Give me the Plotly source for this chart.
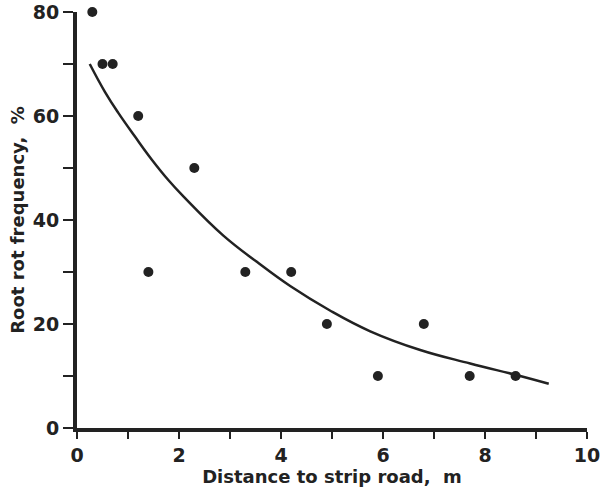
import plotly.graph_objects as go

# Observed data points (distance m, root rot frequency %)
dist = [0.3, 0.5, 0.7, 1.2, 1.4, 2.3, 3.3, 4.2, 4.9, 5.9, 6.8, 7.7, 8.6]
freq = [80, 70, 70, 60, 30, 50, 30, 30, 20, 10, 20, 10, 10]

# Fitted curve
curve_x = [0.25, 0.55, 0.81, 1.14, 1.46, 1.79, 2.10, 2.87, 3.52, 4.18, 4.96, 5.75, 6.73, 7.71, 8.69, 9.25]
curve_y = [70.0, 64.6, 60.6, 56.0, 51.7, 47.7, 44.4, 37.0, 32.0, 27.3, 22.6, 18.6, 15.0, 12.4, 10.0, 8.5]

x_ticks = list(range(0, 11))
x_labels = [str(v) if v % 2 == 0 else "" for v in x_ticks]
y_ticks = list(range(0, 81, 10))
y_labels = [str(v) if v % 20 == 0 else "" for v in y_ticks]

ink = "#222222"
font = dict(family="DejaVu Sans", size=18, color=ink, weight="bold")
tick_font = dict(family="DejaVu Sans", size=19, color=ink, weight="bold")

fig = go.Figure()
fig.add_trace(go.Scatter(x=curve_x, y=curve_y, mode="lines",
                         line=dict(color=ink, width=2.5, shape="spline", smoothing=1.2),
                         cliponaxis=False, showlegend=False))
fig.add_trace(go.Scatter(x=dist, y=freq, mode="markers",
                         marker=dict(color=ink, size=10),
                         cliponaxis=False, showlegend=False))

fig.update_layout(
    width=601, height=495,
    margin=dict(l=77, r=14, t=12, b=67, autoexpand=False),
    paper_bgcolor="white", plot_bgcolor="white",
    font=font,
    xaxis=dict(range=[0, 10], tickvals=x_ticks, ticktext=x_labels,
               automargin=False,
               showgrid=False, zeroline=False, showline=True,
               linecolor=ink, linewidth=4, ticks="outside", ticklen=7,
               tickwidth=2, tickcolor=ink, tickfont=tick_font,
               title=dict(text="Distance to strip road,  m", font=font, standoff=6)),
    yaxis=dict(range=[0, 80], tickvals=y_ticks, ticktext=y_labels,
               automargin=False,
               showgrid=False, zeroline=False, showline=True,
               linecolor=ink, linewidth=4, ticks="outside", ticklen=10,
               tickwidth=2, tickcolor=ink, tickfont=tick_font,
               title=dict(text="Root rot frequency,  %", font=font, standoff=4)),
)

fig.write_html("out.html")
